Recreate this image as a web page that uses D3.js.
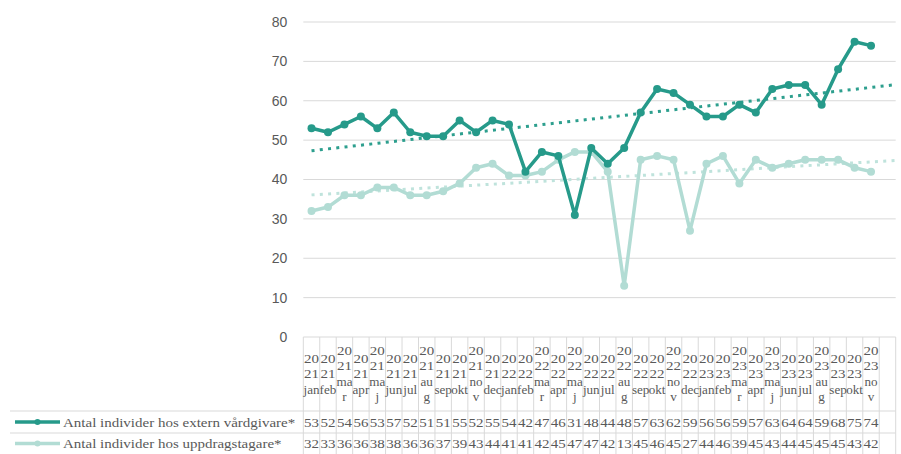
<!DOCTYPE html>
<html>
<head>
<meta charset="utf-8">
<script src="https://cdn.jsdelivr.net/npm/d3@7"></script>
<style>
  body { margin: 0; background: #fff; }
  svg { display: block; }
  .tbl { font-family: "Liberation Serif", "DejaVu Serif", serif; font-size: 12.5px; fill: #595959; }
</style>
</head>
<body>
<svg></svg>
<script>
// Categories (year + month), one empty slot is added at the end like the original table.
var categories = [
  "2021 jan","2021 feb","2021 mar","2021 apr","2021 maj","2021 jun","2021 jul","2021 aug","2021 sep","2021 okt","2021 nov","2021 dec",
  "2022 jan","2022 feb","2022 mar","2022 apr","2022 maj","2022 jun","2022 jul","2022 aug","2022 sep","2022 okt","2022 nov","2022 dec",
  "2023 jan","2023 feb","2023 mar","2023 apr","2023 maj","2023 jun","2023 jul","2023 aug","2023 sep","2023 okt","2023 nov"
];
// Month names that wrap onto two lines in the narrow table cells.
var wrapMonths = ["mar","maj","aug","nov"];

var seriesNames = ["Antal individer hos extern vårdgivare*", "Antal individer hos uppdragstagare*"];
var externVardgivare = [53,52,54,56,53,57,52,51,51,55,52,55,54,42,47,46,31,48,44,48,57,63,62,59,56,56,59,57,63,64,64,59,68,75,74];
var uppdragstagare  = [32,33,36,36,38,38,36,36,37,39,43,44,41,41,42,45,47,47,42,13,45,46,45,27,44,46,39,45,43,44,45,45,45,43,42];
var yTicks = [0,10,20,30,40,50,60,70,80];

var colors = ["#269a8a", "#b2dcd4"];
var trendColors = ["#2d9f8e", "#bfe3dc"];

window.onload = function(){

  var width = 901, height = 454;
  var svg = d3.select("svg")
    .attr("width", width)
    .attr("height", height);

  var left = 303.3, right = 895.7;
  var top = 22, bottom = 337;
  var headerBottom = 411, row1Bottom = 433, row2Bottom = 454;

  var x = d3.scaleBand()
    .domain(d3.range(categories.length + 1))
    .range([left, right])
    .paddingInner(0)
    .paddingOuter(0);
  var bw = x.bandwidth();
  var cx = function(i){ return x(i) + bw / 2; };

  var y = d3.scaleLinear()
    .domain([0, 80])
    .range([bottom, top]);

  // Grid lines
  svg.append("g")
    .selectAll("line")
    .data(yTicks.filter(function(d){ return d > 0; }))
    .enter()
    .append("line")
    .attr("x1", left)
    .attr("x2", right)
    .attr("y1", function(d){ return y(d); })
    .attr("y2", function(d){ return y(d); })
    .attr("stroke", "#d9d9d9")
    .attr("stroke-width", 1);

  // Y axis labels
  var yAxis = svg.append("g")
    .attr("transform", "translate(" + (left - 12) + ",0)")
    .call(d3.axisLeft(y).tickValues(yTicks).tickSize(0).tickPadding(4));
  yAxis.select(".domain").remove();
  yAxis.selectAll("text")
    .attr("font-family", "Liberation Sans, Arial, sans-serif")
    .attr("font-size", "14px")
    .attr("fill", "#595959");

  var series = [externVardgivare, uppdragstagare];

  // Trend lines (least squares over the data)
  series.forEach(function(values, k){
    var n = values.length;
    var mx = d3.mean(d3.range(n));
    var my = d3.mean(values);
    var sxy = d3.sum(values, function(v, i){ return (i - mx) * (v - my); });
    var sxx = d3.sum(d3.range(n), function(i){ return (i - mx) * (i - mx); });
    var b = sxy / sxx, a = my - b * mx;
    var iEnd = (right - left) / bw - 0.5;
    svg.append("line")
      .attr("x1", cx(0))
      .attr("y1", y(a))
      .attr("x2", left + (iEnd + 0.5) * bw)
      .attr("y2", y(a + b * iEnd))
      .attr("stroke", trendColors[k])
      .attr("stroke-width", 3)
      .attr("stroke-dasharray", "3,5.3");
  });

  // Series lines and markers (light one first so the dark one is on top)
  var line = d3.line()
    .x(function(d, i){ return cx(i); })
    .y(function(d){ return y(d); });

  [1, 0].forEach(function(k){
    svg.append("path")
      .datum(series[k])
      .attr("d", line)
      .attr("fill", "none")
      .attr("stroke", colors[k])
      .attr("stroke-width", 3.5)
      .attr("stroke-linejoin", "round");
    svg.append("g")
      .selectAll("circle")
      .data(series[k])
      .enter()
      .append("circle")
      .attr("cx", function(d, i){ return cx(i); })
      .attr("cy", function(d){ return y(d); })
      .attr("r", 4)
      .attr("fill", colors[k]);
  });

  // Data table grid
  var grid = svg.append("g")
    .attr("stroke", "#d9d9d9")
    .attr("stroke-width", 1);
  grid.append("line").attr("x1", left).attr("x2", right).attr("y1", bottom).attr("y2", bottom);
  [headerBottom, row1Bottom].forEach(function(yy){
    grid.append("line").attr("x1", 10).attr("x2", right).attr("y1", yy).attr("y2", yy);
  });
  grid.selectAll("line.col")
    .data(d3.range(categories.length + 2))
    .enter()
    .append("line")
    .attr("class", "col")
    .attr("x1", function(i){ return left + i * bw; })
    .attr("x2", function(i){ return left + i * bw; })
    .attr("y1", bottom)
    .attr("y2", row2Bottom);

  var stretch = 1.2;

  // Header labels, wrapped into the narrow cells
  var lineH = 15.5, headerMid = (bottom + headerBottom) / 2 + 4;
  categories.forEach(function(c, i){
    var parts = c.split(" ");
    var lines = [parts[0].slice(0, 2), parts[0].slice(2)];
    if (wrapMonths.indexOf(parts[1]) >= 0) {
      lines.push(parts[1].slice(0, 2), parts[1].slice(2));
    } else {
      lines.push(parts[1]);
    }
    var y0 = headerMid - (lines.length - 1) * lineH / 2;
    lines.forEach(function(t, j){
      svg.append("text")
        .attr("class", "tbl")
        .attr("transform", "translate(" + cx(i) + "," + (y0 + j * lineH) + ") scale(" + (j < 2 ? stretch : 1.05) + ",1)")
        .attr("text-anchor", "middle")
        .text(t);
    });
  });

  // Value rows
  var rowMid = [(headerBottom + row1Bottom) / 2 + 4.5, (row1Bottom + row2Bottom) / 2 + 4.5];
  series.forEach(function(values, k){
    svg.append("g")
      .selectAll("text")
      .data(values)
      .enter()
      .append("text")
      .attr("class", "tbl")
      .attr("transform", function(d, i){ return "translate(" + cx(i) + "," + rowMid[k] + ") scale(" + stretch + ",1)"; })
      .attr("text-anchor", "middle")
      .text(function(d){ return d; });

    // Legend key
    svg.append("line")
      .attr("x1", 15).attr("x2", 60)
      .attr("y1", rowMid[k] - 4.5).attr("y2", rowMid[k] - 4.5)
      .attr("stroke", colors[k])
      .attr("stroke-width", 3.5);
    svg.append("circle")
      .attr("cx", 37.5).attr("cy", rowMid[k] - 4.5)
      .attr("r", 3)
      .attr("fill", colors[k]);
    svg.append("text")
      .attr("class", "tbl")
      .attr("transform", "translate(63," + rowMid[k] + ") scale(" + stretch + ",1)")
      .text(seriesNames[k]);
  });
};
</script>
</body>
</html>
